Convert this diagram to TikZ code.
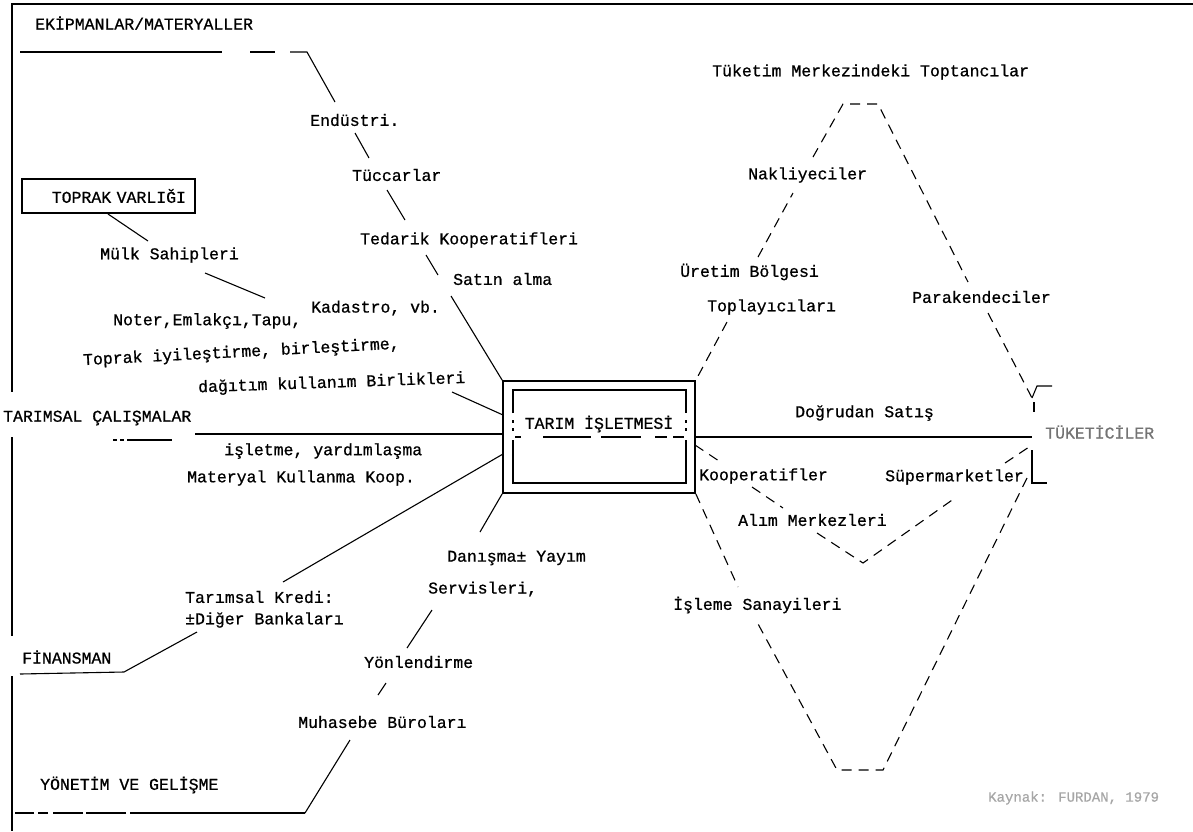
\documentclass[tikz,border=0pt]{standalone}
\usepackage{fontspec}
\newfontfamily\typefont[FakeBold=0.8]{Liberation Mono}
\usetikzlibrary{calc}
\tikzstyle{lbl}=[font=\typefont\fontsize{16.5}{18}\selectfont,inner sep=0pt,anchor=west]
\tikzstyle{solidline}=[draw=black,line width=1.1pt]
\tikzstyle{dashline}=[draw=black,line width=1.1pt,dash pattern=on 10pt off 7pt]
\tikzstyle{boxline}=[draw=black,line width=1.6pt]
\colorlet{faded}{black!55}

\begin{document}
\begin{tikzpicture}[x=1pt,y=-1pt]
  \useasboundingbox (0,0) rectangle (1193,831);
  % frame
  \draw[solidline] (1193,4) -- (12,4) -- (12,392);
  \draw[solidline] (12,437) -- (12,636);
  \draw[solidline] (12,676) -- (12,831);

  % left side
  \node[lbl] (ekip) at (35,23) {EKİPMANLAR/MATERYALLER};
  \node[lbl] (endustri) at (310,120) {Endüstri.};
  \node[lbl] (tuccar) at (352,175) {Tüccarlar};
  \node[lbl] (tedarik) at (360,240) {Tedarik Kooperatifleri};
  \node[lbl] (satin) at (453,279) {Satın alma};
  \node[draw,line width=1.1pt,minimum width=173pt,minimum height=34pt,text width=155pt,align=right,
        font=\typefont\fontsize{16.5}{18}\selectfont,inner sep=0pt] (toprak) at (108.5,196) {TOPRAK VARLIĞI};
  \node[lbl] (mulk) at (100,255) {Mülk Sahipleri};
  \node[lbl] (noter) at (113,321) {Noter,Emlakçı,Tapu,};
  \node[lbl] (kadastro) at (311,308) {Kadastro, vb.};
  \node[lbl,rotate=3] (toprakiy) at (83,361) {Toprak iyileştirme, birleştirme,};
  \node[lbl,rotate=2] (dagitim) at (198,388) {dağıtım kullanım Birlikleri};
  \node[lbl] (tarimsal) at (3,418) {TARIMSAL ÇALIŞMALAR};
  \node[lbl] (isletme) at (224,451) {işletme, yardımlaşma};
  \node[lbl] (materyal) at (187,478) {Materyal Kullanma Koop.};
  \node[lbl] (kredi) at (185,597) {Tarımsal Kredi:};
  \node[lbl] (banka) at (185,620) {±Diğer Bankaları};
  \node[lbl] (finans) at (22,657) {FİNANSMAN};
  \node[lbl] (danisma) at (447,558) {Danışma± Yayım};
  \node[lbl] (servis) at (428,589) {Servisleri,};
  \node[lbl] (yonlen) at (364,662) {Yönlendirme};
  \node[lbl] (muhasebe) at (298,722) {Muhasebe Büroları};
  \node[lbl] (yonetim) at (40,785) {YÖNETİM VE GELİŞME};

  % farm box
  \node[boxline,minimum width=192pt,minimum height=112pt,inner sep=0pt] (farm) at (599,437) {};
  \node[lbl,anchor=center] (farmlbl) at (599,424) {TARIM İŞLETMESİ};
  \draw[solidline,line width=1.5pt] (513,413) -- (513,390) -- (686,390) -- (686,413);
  \draw[solidline,line width=1.5pt] (513,440) -- (513,483) -- (686,483) -- (686,440);
  \draw[solidline] (513,420) -- (513,423) (513,428) -- (513,431);
  \draw[solidline] (686,420) -- (686,423) (686,428) -- (686,431);
  \draw[solidline,dash pattern=on 6pt off 22pt on 48pt off 10pt on 40pt off 14pt on 12pt] (515,437) -- (684,437);

  % right side
  \node[lbl] (toptanci) at (712,72) {Tüketim Merkezindeki Toptancılar};
  \node[lbl] (nakliye) at (748,175) {Nakliyeciler};
  \node[lbl] (uretim) at (680,272) {Üretim Bölgesi};
  \node[lbl] (toplayici) at (707,307) {Toplayıcıları};
  \node[lbl] (parakende) at (912,297) {Parakendeciler};
  \node[lbl] (dogrudan) at (795,413) {Doğrudan Satış};
  \node[lbl,text=faded] (tuketici) at (1045,432) {TÜKETİCİLER};
  \node[lbl] (koop) at (699,476) {Kooperatifler};
  \node[lbl] (alim) at (738,520) {Alım Merkezleri};
  \node[lbl] (super) at (885,477) {Süpermarketler};
  \node[lbl] (isleme) at (673,605) {İşleme Sanayileri};
  \node[lbl,text=black!35,font=\typefont\fontsize{14}{16}\selectfont] (kaynak) at (988,798) {Kaynak: FURDAN, 1979};

  % left connectors
  \draw[solidline] (20,52) -- (222,52);
  \draw[solidline] (250,52) -- (275,52);
  \draw[solidline] (290,52) -- (307,52) -- (335,102);
  \draw[solidline] (355,133) -- (369,158);
  \draw[solidline] (387,190) -- (405,220);
  \draw[solidline] (426,255) -- (438,275);
  \draw[solidline] (451,296) -- (farm.north west);
  \draw[solidline] (108,214) -- (148,241);
  \draw[solidline] (205,273) -- (265,298);
  \draw[solidline] (452,392) -- (503,415);
  \draw[solidline] (195,434) -- (503,434);
  \draw[solidline,dash pattern=on 4pt off 3pt on 4pt off 3pt on 50pt] (113,440) -- (172,440);
  \draw[solidline] (503,454) -- (283,582);
  \draw[solidline] (197,632) -- (124,672) -- (20,674);
  \draw[solidline] (farm.south west) -- (480,532);
  \draw[solidline] (432,610) -- (407,648);
  \draw[solidline] (386,683) -- (378,695);
  \draw[solidline] (350,740) -- (305,813);
  \draw[solidline,dash pattern=on 175pt off 4pt on 40pt off 3pt on 30pt off 5pt on 10pt off 4pt on 200pt] (305,813) -- (15,813);

  % right connectors
  \draw[dashline] (727,322) -- (farm.north east);
  \draw[dashline] (758,257) -- (793,193);
  \draw[dashline] (813,157) -- (843,104) -- (878,104) -- (968,282);
  \draw[dashline] (988,313) -- (1032,398);
  \draw[solidline] (1032,398) -- (1037,386) -- (1052,386);
  \draw[solidline] (1034,402) -- (1034,412);
  \draw[solidline] (695,437) -- (1032,437);
  \draw[solidline] (1032,450) -- (1032,483) -- (1047,483);
  \draw[dashline] (695,445) -- (722,463);
  \draw[dashline] (752,487) -- (783,508);
  \draw[dashline] (817,533) -- (863,563) -- (955,498);
  \draw[dashline] (1005,463) -- (1032,445);
  \draw[dashline] (1027,478) -- (883,770) -- (837,770) -- (757,622);
  \draw[dashline] (farm.south east) -- (738,587);
\end{tikzpicture}
\end{document}
